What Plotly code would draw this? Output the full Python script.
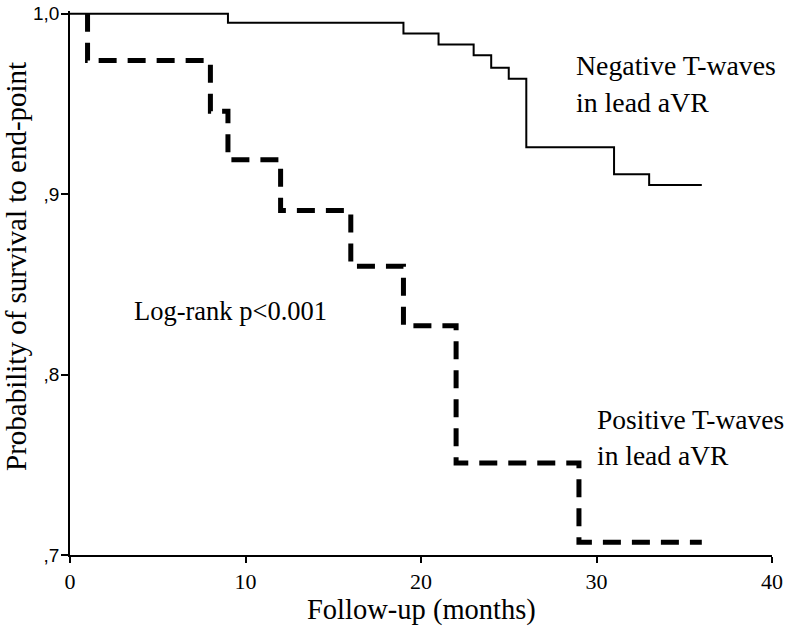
import plotly.graph_objects as go

# ---- data ----
neg_months = [0, 9, 19, 21, 23, 24, 25, 26, 31, 33, 36]
neg_surv = [1.0, 0.995, 0.989, 0.983, 0.977, 0.970, 0.964, 0.926, 0.911, 0.905, 0.905]

pos_months = [1, 1, 8, 9, 12, 16, 19, 22, 29, 36]
pos_surv = [1.0, 0.974, 0.946, 0.919, 0.891, 0.860, 0.827, 0.751, 0.707, 0.707]

x_ticks = [0, 10, 20, 30, 40]
y_ticks = [0.7, 0.8, 0.9, 1.0]
y_ticktext = [",7", ",8", ",9", "1,0"]

W, H = 786, 627
L, R, T, B = 70, 14, 11, 72
PW, PH = W - L - R, H - T - B

def px(xpix):
    return (xpix - L) / PW

def py(ypix):
    return (H - B - ypix) / PH

SERIF = "Liberation Serif, Times New Roman, serif"
SANS = "Liberation Sans, Arial, sans-serif"

fig = go.Figure()
fig.add_trace(go.Scatter(
    x=neg_months, y=neg_surv, mode="lines", line_shape="hv",
    line=dict(color="black", width=2), showlegend=False, hoverinfo="skip"))
fig.add_trace(go.Scatter(
    x=pos_months, y=pos_surv, mode="lines", line_shape="hv",
    line=dict(color="black", width=5, dash="18px,11px"), showlegend=False, hoverinfo="skip"))

ann = []
def add_text(text, xpix, ypix, size, xanchor="left", angle=0):
    ann.append(dict(text=text, xref="paper", yref="paper", x=px(xpix), y=py(ypix),
                    xanchor=xanchor, yanchor="middle", showarrow=False, textangle=angle,
                    borderpad=0,
                    font=dict(family=SERIF, size=size, color="black")))

add_text("Negative T-waves", 575, 66, 27.8)
add_text("in lead aVR", 575, 103, 27.8)
add_text("Positive T-waves", 596, 419, 27.5)
add_text("in lead aVR", 596, 455, 27.5)
add_text("Log-rank p<0.001", 133, 311, 26.5)
add_text("Follow-up (months)", 421, 610, 28.5, xanchor="center")
add_text("Probability of survival to end-point", 16, 267, 29, xanchor="center", angle=-90)

fig.update_layout(
    width=W, height=H,
    margin=dict(l=L, r=R, t=T, b=B, pad=0, autoexpand=False),
    paper_bgcolor="white", plot_bgcolor="white",
    annotations=ann,
)
fig.update_xaxes(range=[0, 40], tickvals=x_ticks, ticks="outside", ticklen=6, tickwidth=1.5,
                 tickcolor="black", showline=True, linecolor="black", linewidth=1.5,
                 showgrid=False, zeroline=False, automargin=False, ticklabelstandoff=0,
                 ticklabeloverflow="allow",
                 tickfont=dict(family=SERIF, size=22, color="black"))
fig.update_yaxes(range=[0.7, 1.0015], tickvals=y_ticks, ticktext=y_ticktext, ticks="outside",
                 ticklen=7, tickwidth=1.5, tickcolor="black", showline=True, linecolor="black",
                 linewidth=1.5, showgrid=False, zeroline=False, automargin=False,
                 ticklabelstandoff=-2, ticklabeloverflow="allow",
                 tickfont=dict(family=SANS, size=19, color="black"))

# remove the default 8px page margin so the 786x627 figure fills the window exactly
fig.write_html("out.html", config={"displayModeBar": False},
               post_script="document.body.style.margin='0px';")
